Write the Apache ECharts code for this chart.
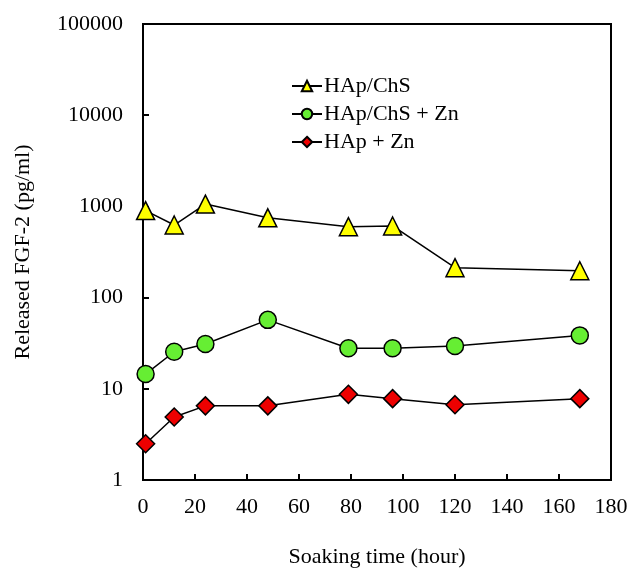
<!DOCTYPE html>
<html>
<head>
<meta charset="utf-8">
<script src="https://cdn.jsdelivr.net/npm/echarts@6/dist/echarts.min.js"></script>
<style>html,body{margin:0;padding:0;background:#fff;}#c{width:630px;height:570px;}</style>
</head>
<body>
<div id="c"></div>
<script>
const seriesNames = ['HAp/ChS', 'HAp/ChS + Zn', 'HAp + Zn'];
const timesChS = [1, 12, 24, 48, 79, 96, 120, 168];
const valuesChS = [900, 625, 1060, 750, 600, 610, 213, 197];
const timesChSZn = [1, 12, 24, 48, 79, 96, 120, 168];
const valuesChSZn = [14.5, 25.5, 31, 57, 27.8, 27.8, 29.5, 38.5];
const timesHApZn = [1, 12, 24, 48, 79, 96, 120, 168];
const valuesHApZn = [2.5, 4.9, 6.5, 6.5, 8.7, 7.8, 6.7, 7.8];
const xTicks = [0, 20, 40, 60, 80, 100, 120, 140, 160, 180];
const yTicks = [1, 10, 100, 1000, 10000, 100000];

const font = 'Liberation Serif';
function pairs(xs, ys) { return xs.map((x, i) => [x, ys[i]]); }

const chart = echarts.init(document.getElementById('c'), null, {renderer: 'canvas'});
const lineStyle = {color: '#000', width: 1.5};
chart.setOption({
  animation: false,
  backgroundColor: '#fff',
  grid: {left: 143, right: 19, top: 24, bottom: 90, containLabel: false, outerBoundsMode: 'none',
         show: true, borderColor: '#000', borderWidth: 2, backgroundColor: 'transparent'},
  legend: {
    orient: 'vertical', left: 286, top: 70, itemWidth: 30, itemHeight: 13, itemGap: 6,
    textStyle: {fontFamily: font, fontSize: 22, color: '#000', padding: [0, 0, 0, -3]},
    data: seriesNames
  },
  xAxis: {
    type: 'value', min: xTicks[0], max: xTicks[xTicks.length - 1], interval: 20,
    name: 'Soaking time (hour)', nameLocation: 'middle', nameGap: 66,
    nameTextStyle: {fontFamily: font, fontSize: 22, color: '#000'},
    axisLine: {show: true, lineStyle: {color: '#000', width: 2}},
    axisTick: {show: true, inside: true, length: 6, lineStyle: {color: '#000', width: 2}},
    axisLabel: {fontFamily: font, fontSize: 22, color: '#000', margin: 16},
    splitLine: {show: false}
  },
  yAxis: {
    type: 'log', logBase: 10, min: yTicks[0], max: yTicks[yTicks.length - 1],
    name: 'Released FGF-2 (pg/ml)', nameLocation: 'middle', nameGap: 109, nameRotate: 90,
    nameTextStyle: {fontFamily: font, fontSize: 22, color: '#000', padding: [0, 0, 0, 0]},
    axisLine: {show: true, lineStyle: {color: '#000', width: 2}},
    axisTick: {show: true, inside: true, length: 6, lineStyle: {color: '#000', width: 2}},
    axisLabel: {fontFamily: font, fontSize: 22, color: '#000', margin: 20, formatter: v => String(Math.round(v))},
    splitLine: {show: false}, minorTick: {show: false}
  },
  series: [
    {name: seriesNames[0], type: 'line', data: pairs(timesChS, valuesChS), symbol: 'triangle', symbolSize: 18,
     lineStyle: lineStyle, itemStyle: {color: '#FFFF00', borderColor: '#000', borderWidth: 1.5}, z: 3},
    {name: seriesNames[1], type: 'line', data: pairs(timesChSZn, valuesChSZn), symbol: 'circle', symbolSize: 17,
     lineStyle: lineStyle, itemStyle: {color: '#66EE33', borderColor: '#000', borderWidth: 1.5}, z: 3},
    {name: seriesNames[2], type: 'line', data: pairs(timesHApZn, valuesHApZn), symbol: 'diamond', symbolSize: 18,
     lineStyle: lineStyle, itemStyle: {color: '#EE0000', borderColor: '#000', borderWidth: 1.5}, z: 3}
  ]
});
</script>
</body>
</html>
